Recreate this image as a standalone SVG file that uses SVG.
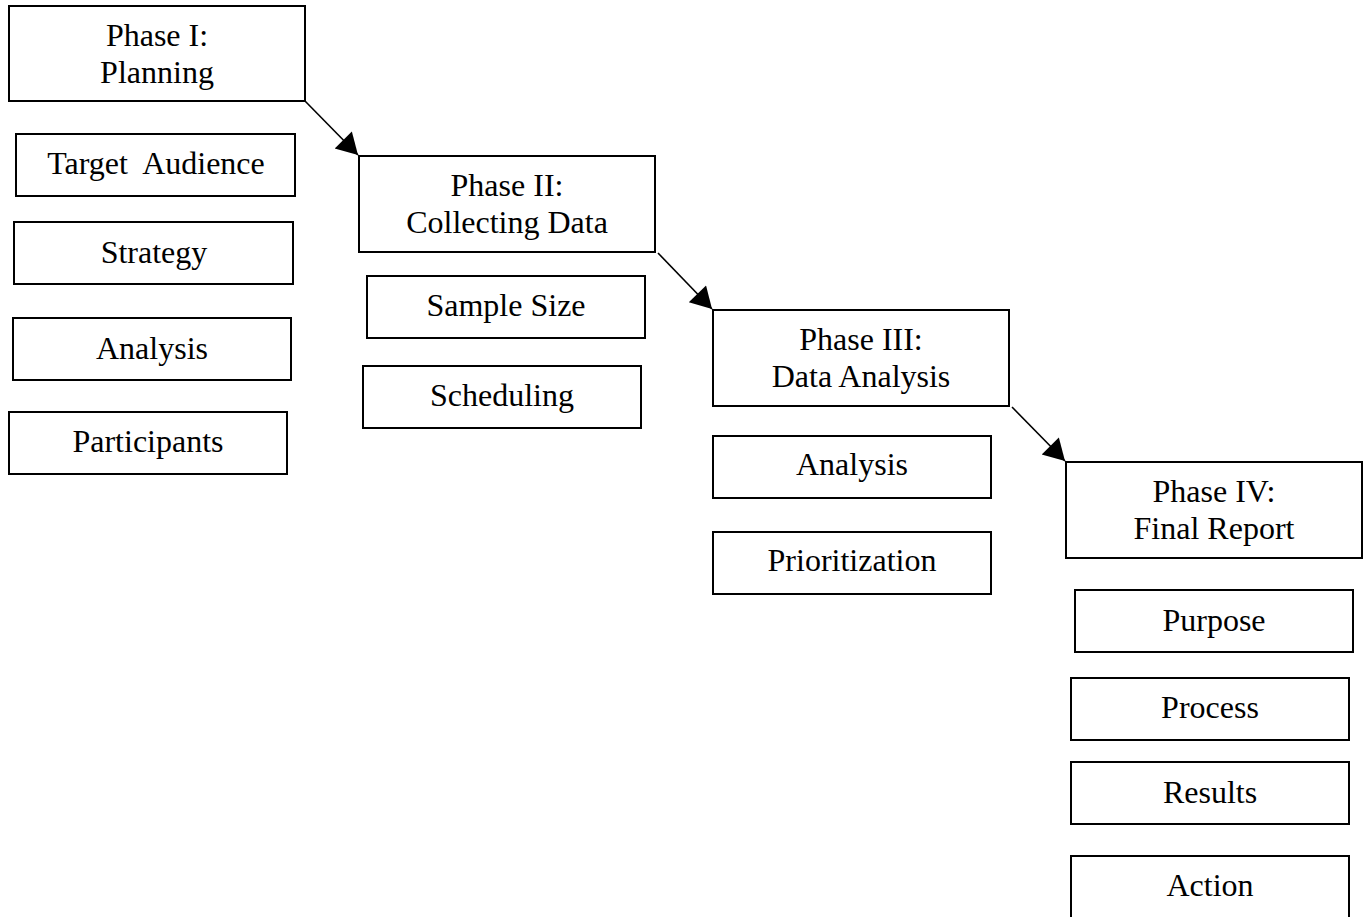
<svg xmlns="http://www.w3.org/2000/svg" width="1365" height="917" viewBox="0 0 1365 917">
<style>
.box{fill:#fff;stroke:#000;stroke-width:2}
.t{font-family:"Liberation Serif","Times New Roman",serif;font-size:32px;fill:#000;text-anchor:middle}
.conn{stroke:#000;stroke-width:1.6;fill:none}
</style>
<defs>
<marker id="ah" markerUnits="userSpaceOnUse" markerWidth="24" markerHeight="24" viewBox="0 0 22 24" refX="21" refY="12" orient="auto">
<path d="M0,0 L21,12 L0,24 z" fill="#000"/>
</marker>
</defs>
<rect width="1365" height="917" fill="#fff"/>
<g id="connectors">
<line class="conn" x1="305" y1="101" x2="358" y2="155" marker-end="url(#ah)"/>
<line class="conn" x1="658" y1="253" x2="712" y2="309" marker-end="url(#ah)"/>
<line class="conn" x1="1012" y1="407" x2="1065" y2="461" marker-end="url(#ah)"/>
</g>
<g id="phase1"><rect class="box" x="9" y="6" width="296" height="95"/><text class="t" x="157" y="46">Phase I:</text><text class="t" x="157" y="83">Planning</text></g>
<g id="target-audience"><rect class="box" x="16" y="134" width="279" height="62"/><text class="t" x="156" y="174" xml:space="preserve">Target  Audience</text></g>
<g id="strategy"><rect class="box" x="14" y="222" width="279" height="62"/><text class="t" x="154" y="263">Strategy</text></g>
<g id="analysis1"><rect class="box" x="13" y="318" width="278" height="62"/><text class="t" x="152" y="359">Analysis</text></g>
<g id="participants"><rect class="box" x="9" y="412" width="278" height="62"/><text class="t" x="148" y="452">Participants</text></g>

<g id="phase2"><rect class="box" x="359" y="156" width="296" height="96"/><text class="t" x="507" y="196">Phase II:</text><text class="t" x="507" y="233">Collecting Data</text></g>
<g id="sample-size"><rect class="box" x="367" y="276" width="278" height="62"/><text class="t" x="506" y="316">Sample Size</text></g>
<g id="scheduling"><rect class="box" x="363" y="366" width="278" height="62"/><text class="t" x="502" y="406">Scheduling</text></g>

<g id="phase3"><rect class="box" x="713" y="310" width="296" height="96"/><text class="t" x="861" y="350">Phase III:</text><text class="t" x="861" y="387">Data Analysis</text></g>
<g id="analysis2"><rect class="box" x="713" y="436" width="278" height="62"/><text class="t" x="852" y="475">Analysis</text></g>
<g id="prioritization"><rect class="box" x="713" y="532" width="278" height="62"/><text class="t" x="852" y="571">Prioritization</text></g>

<g id="phase4"><rect class="box" x="1066" y="462" width="296" height="96"/><text class="t" x="1214" y="502">Phase IV:</text><text class="t" x="1214" y="539">Final Report</text></g>
<g id="purpose"><rect class="box" x="1075" y="590" width="278" height="62"/><text class="t" x="1214" y="631">Purpose</text></g>
<g id="process"><rect class="box" x="1071" y="678" width="278" height="62"/><text class="t" x="1210" y="718">Process</text></g>
<g id="results"><rect class="box" x="1071" y="762" width="278" height="62"/><text class="t" x="1210" y="803">Results</text></g>
<g id="action"><rect class="box" x="1071" y="856" width="278" height="62"/><text class="t" x="1210" y="896">Action</text></g>
</svg>
